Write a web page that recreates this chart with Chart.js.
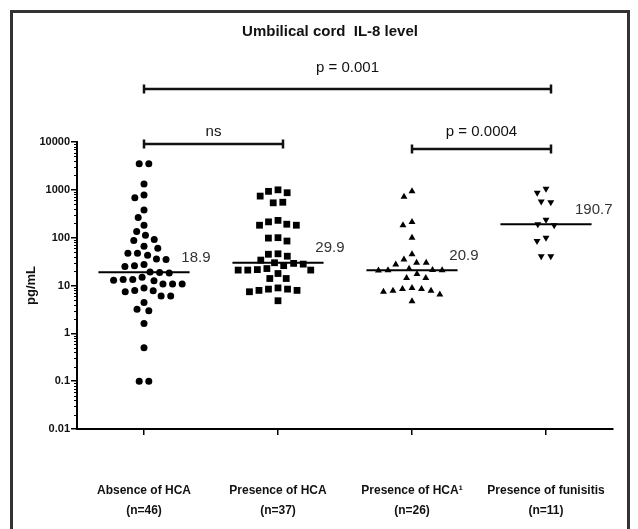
<!DOCTYPE html>
<html>
<head>
<meta charset="utf-8">
<script src="https://cdn.jsdelivr.net/npm/chart.js@4.4.1/dist/chart.umd.min.js"></script>
<style>
  html, body { margin: 0; padding: 0; background: #fff; }
</style>
</head>
<body>
<canvas id="myChart" width="638" height="529"></canvas>
<script>
// categories (two-line labels)
const categories = [
  ['Absence of HCA', '(n=46)'],
  ['Presence of HCA', '(n=37)'],
  ['Presence of HCA\u00b9', '(n=26)'],
  ['Presence of funisitis', '(n=11)']
];

// IL-8 values, pg/mL
const absenceHCA = [3500, 3500, 1330, 780, 680, 380, 263, 182, 135, 112, 92, 87, 66, 60,
  47, 47, 43, 36, 35, 27.5, 26, 25, 19.2, 18.6, 18.2, 14.8, 13.3, 13.3, 12.9, 12.6,
  10.7, 10.7, 10.7, 8.9, 7.9, 7.8, 7.4, 6.0, 6.0, 4.4, 3.2, 2.95, 1.6, 0.5, 0.1, 0.1];
const presenceHCA = [1000, 930, 870, 740, 550, 535, 230, 214, 191, 182, 182, 100, 98, 85,
  46, 45, 41, 34, 29.9, 29, 28, 26, 22.6, 21.5, 21, 21, 21, 17.8, 14, 14,
  8.9, 8.4, 8.4, 7.9, 7.9, 7.4, 4.8];
const presenceHCA1 = [930, 720, 213, 182, 100, 45, 35, 30, 30, 27.5, 22.5, 21.2, 20.9, 20.9, 20.6,
  17.3, 14.4, 14.4, 8.9, 8.4, 8.4, 7.8, 7.8, 7.4, 6.5, 4.7];
const funisitis = [1050, 870, 570, 550, 237, 190.7, 182, 100, 85, 41, 41];

const medians = [18.9, 29.9, 20.9, 190.7];
const yTicks = [0.01, 0.1, 1, 10, 100, 1000, 10000];

const comparisons = [
  { from: 1, to: 4, label: 'p = 0.001' },
  { from: 1, to: 2, label: 'ns' },
  { from: 3, to: 4, label: 'p = 0.0004' }
];
const chartTitle = 'Umbilical cord  IL-8 level';

const groups = [absenceHCA, presenceHCA, presenceHCA1, funisitis];
const FONT = '"Liberation Sans", Arial, sans-serif';
const GAP = 9.6;       // px, minimum distance between two symbols
const HALF = 0.34;     // half width of the median bar, x units

function collides(p, px, placed) {
  return placed.some(q => q !== p && q.px !== undefined &&
    Math.hypot(q.px - px, q.py - p.py) < GAP - 0.5);
}

// simple beeswarm: each point goes to the free x nearest the category centre
function swarm(values, cat, xs, ys) {
  const pxPerUnit = Math.abs(xs.getPixelForValue(2) - xs.getPixelForValue(1));
  const pts = values.map(v => ({ v, py: ys.getPixelForValue(v) })).sort((a, b) => a.py - b.py);
  const placed = [];
  pts.forEach(p => {
    const blocked = [];
    placed.forEach(q => {
      const dy = p.py - q.py;
      if (Math.abs(dy) < GAP) {
        const dx = Math.sqrt(GAP * GAP - dy * dy);
        blocked.push([q.px - dx, q.px + dx]);
      }
    });
    const cands = [0];
    blocked.forEach(b => cands.push(b[0], b[1]));
    cands.sort((a, b) => Math.abs(a) - Math.abs(b));
    p.px = cands.find(c => blocked.every(b => c <= b[0] + 1e-6 || c >= b[1] - 1e-6));
    placed.push(p);
  });
  // centre rows of points sharing the same height, when there is room
  for (let i = 0; i < placed.length; ) {
    let j = i;
    while (j + 1 < placed.length && placed[j + 1].py - placed[i].py < 2) j++;
    const row = placed.slice(i, j + 1);
    if (row.length > 1) {
      const mean = row.reduce((s, p) => s + p.px, 0) / row.length;
      const others = placed.filter(q => !row.includes(q));
      if (row.every(p => !collides(p, p.px - mean, others))) row.forEach(p => { p.px -= mean; });
    }
    i = j + 1;
  }
  return placed.map(p => ({ x: cat + p.px / pxPerUnit, y: p.v }));
}

const decor = {
  id: 'decor',
  beforeDraw(chart) {
    const { ctx, width, height } = chart;
    ctx.save();
    ctx.fillStyle = '#fff';
    ctx.fillRect(0, 0, width, height);
    ctx.restore();
  },
  afterDraw(chart) {
    const { ctx, chartArea, scales: { x, y } } = chart;
    ctx.save();
    // frame
    ctx.strokeStyle = '#333';
    ctx.lineWidth = 3;
    ctx.strokeRect(11.5, 11.5, 617, 540);

    // minor log ticks
    ctx.strokeStyle = '#000';
    ctx.lineWidth = 1;
    for (let d = -2; d < 4; d++) {
      for (let k = 2; k < 10; k++) {
        const py = Math.round(y.getPixelForValue(k * Math.pow(10, d))) + 0.5;
        ctx.beginPath();
        ctx.moveTo(chartArea.left - 3, py);
        ctx.lineTo(chartArea.left, py);
        ctx.stroke();
      }
    }

    // title
    ctx.fillStyle = '#111';
    ctx.textAlign = 'center';
    ctx.textBaseline = 'middle';
    ctx.font = 'bold 15px ' + FONT;
    ctx.fillText(chartTitle, 330, 32);

    // significance brackets
    const rows = [{ line: -53, text: -74 }, { line: 2, text: -10 }, { line: 7, text: -10 }];
    ctx.strokeStyle = '#111';
    ctx.lineWidth = 2.5;
    ctx.font = '15px ' + FONT;
    comparisons.forEach((c, i) => {
      const x1 = x.getPixelForValue(c.from);
      const x2 = x.getPixelForValue(c.to) + 5;
      const ly = chartArea.top + rows[i].line;
      ctx.beginPath();
      ctx.moveTo(x1, ly); ctx.lineTo(x2, ly);
      ctx.moveTo(x1, ly - 4.5); ctx.lineTo(x1, ly + 4.5);
      ctx.moveTo(x2, ly - 4.5); ctx.lineTo(x2, ly + 4.5);
      ctx.stroke();
      ctx.fillText(c.label, (x1 + x2) / 2, chartArea.top + rows[i].text);
    });

    // median labels
    ctx.fillStyle = '#333';
    ctx.textAlign = 'right';
    medians.forEach((m, i) => {
      const px = x.getPixelForValue(i + 1 + HALF) + 21;
      ctx.fillText(String(m), px, y.getPixelForValue(m) - 14.5);
    });
    ctx.restore();
  }
};

const shapes = [
  { pointStyle: 'circle', radius: 3.5, rotation: 0 },
  { pointStyle: 'rect', radius: 4.8, rotation: 0 },
  { pointStyle: 'triangle', radius: 4, rotation: 0 },
  { pointStyle: 'triangle', radius: 4, rotation: 180 }
];

const datasets = groups.map((vals, i) => ({
  type: 'scatter',
  label: categories[i][0],
  data: vals.map(v => ({ x: i + 1, y: v })),
  pointStyle: shapes[i].pointStyle,
  pointRadius: shapes[i].radius,
  pointRotation: shapes[i].rotation,
  backgroundColor: '#000',
  borderColor: '#000',
  borderWidth: 0
}));
medians.forEach((m, i) => {
  datasets.push({
    type: 'line',
    label: 'median ' + (i + 1),
    data: [{ x: i + 1 - HALF, y: m }, { x: i + 1 + HALF, y: m }],
    borderColor: '#000',
    borderWidth: 2,
    pointRadius: 0
  });
});

const ctx = document.getElementById('myChart').getContext('2d');
const chart = new Chart(ctx, {
  type: 'scatter',
  data: { datasets },
  options: {
    responsive: false,
    animation: false,
    devicePixelRatio: 1,
    layout: { padding: { top: 142, right: 25, bottom: 0, left: 0 } },
    plugins: {
      legend: { display: false },
      tooltip: { enabled: false }
    },
    scales: {
      x: {
        type: 'linear',
        min: 0.5,
        max: 4.5,
        afterBuildTicks: s => { s.ticks = categories.map((c, i) => ({ value: i + 1 })); },
        afterFit: s => { s.height = 100; s.paddingLeft = 0; s.paddingRight = 0; },
        ticks: {
          callback: v => categories[v - 1],
          autoSkip: false,
          maxRotation: 0,
          padding: 46,
          color: '#111',
          font: { family: FONT, size: 12, weight: 'bold', lineHeight: '20px' }
        },
        grid: { drawOnChartArea: false, tickLength: 6, color: '#000', lineWidth: 1.5 },
        border: { color: '#000', width: 2 }
      },
      y: {
        type: 'logarithmic',
        min: 0.01,
        max: 10000,
        afterBuildTicks: s => { s.ticks = yTicks.map(v => ({ value: v })); },
        afterFit: s => { s.width = 77; },
        ticks: {
          callback: v => String(v),
          autoSkip: false,
          padding: 1,
          color: '#111',
          font: { family: FONT, size: 11, weight: 'bold' }
        },
        grid: { drawOnChartArea: false, tickLength: 6, color: '#000', lineWidth: 1.5 },
        border: { color: '#000', width: 2 },
        title: {
          display: true,
          text: 'pg/mL',
          color: '#111',
          font: { family: FONT, size: 13, weight: 'bold' },
          padding: { top: 24, bottom: 0 }
        }
      }
    }
  },
  plugins: [decor]
});

// spread the points once the scales are laid out
groups.forEach((vals, i) => {
  chart.data.datasets[i].data = swarm(vals, i + 1, chart.scales.x, chart.scales.y);
});
chart.update('none');
</script>
</body>
</html>
